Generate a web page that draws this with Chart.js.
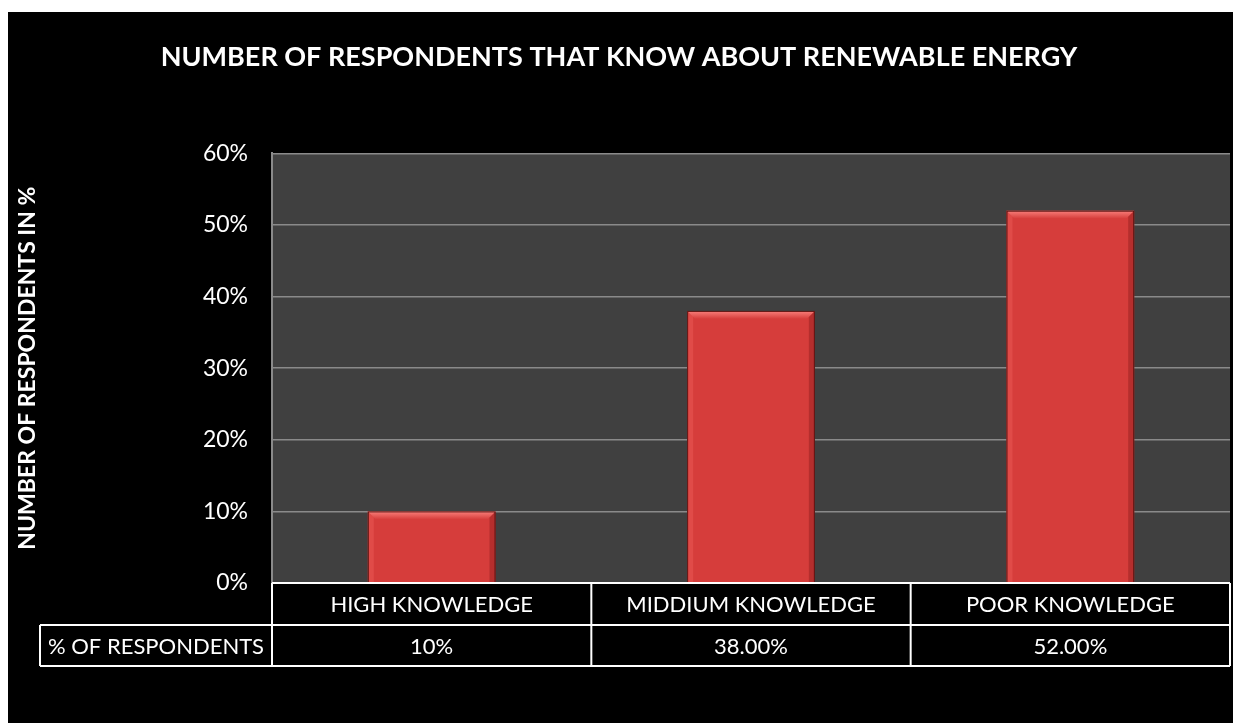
<!DOCTYPE html>
<html>
<head>
<meta charset="utf-8">
<script src="https://cdn.jsdelivr.net/npm/chart.js@4/dist/chart.umd.min.js"></script>
<style>
  html, body { margin: 0; padding: 0; background: #fff; }
  #wrap { width: 1233px; height: 723px; }
</style>
</head>
<body>
<div id="wrap"><canvas id="knowledge-chart" width="1233" height="723"></canvas></div>
<script>
const categories = ["HIGH KNOWLEDGE", "MIDDIUM KNOWLEDGE", "POOR KNOWLEDGE"];
const respondents = [10, 38, 52];
const tableLabels = ["10%", "38.00%", "52.00%"];
const seriesName = "% OF RESPONDENTS";

const FONT = "Lato, 'Open Sans', sans-serif";
const canvas = document.getElementById("knowledge-chart");

// black frame + dark plot area behind the bars
const background = {
    id: "background",
    beforeDraw(chart) {
        const ctx = chart.ctx;
        const a = chart.chartArea;
        ctx.save();
        ctx.fillStyle = "#ffffff";
        ctx.fillRect(0, 0, chart.width, chart.height);
        ctx.fillStyle = "#000000";
        ctx.fillRect(8, 12, chart.width - 8, chart.height - 12);
        ctx.fillStyle = "#404040";
        ctx.fillRect(a.left, a.top, a.right - a.left, a.bottom - a.top);
        ctx.restore();
    },
    afterDatasetsDraw(chart) {
        // bevel look on each bar
        const ctx = chart.ctx;
        chart.getDatasetMeta(0).data.forEach(bar => {
            const l = bar.x - bar.width / 2, r = bar.x + bar.width / 2;
            const t = bar.y, b = bar.base;
            ctx.save();
            let g = ctx.createLinearGradient(0, t, 0, t + 8);
            g.addColorStop(0, "rgba(255,140,135,0.85)");
            g.addColorStop(1, "rgba(255,140,135,0)");
            ctx.fillStyle = g;
            ctx.beginPath();
            ctx.moveTo(l, t); ctx.lineTo(r, t); ctx.lineTo(r - 8, t + 8); ctx.lineTo(l + 8, t + 8);
            ctx.closePath(); ctx.fill();
            ctx.fillStyle = "rgba(120,20,20,0.35)";
            ctx.beginPath();
            ctx.moveTo(r, t); ctx.lineTo(r, b); ctx.lineTo(r - 6, b); ctx.lineTo(r - 6, t + 6);
            ctx.closePath(); ctx.fill();
            ctx.fillStyle = "rgba(255,120,110,0.25)";
            ctx.beginPath();
            ctx.moveTo(l, t); ctx.lineTo(l, b); ctx.lineTo(l + 6, b); ctx.lineTo(l + 6, t + 6);
            ctx.closePath(); ctx.fill();
            ctx.strokeStyle = "#5a1412";
            ctx.lineWidth = 1;
            ctx.strokeRect(l + 0.5, t + 0.5, r - l - 1, b - t);
            ctx.restore();
        });
    }
};

// data table under the plot
const dataTable = {
    id: "dataTable",
    afterDraw(chart) {
        const ctx = chart.ctx;
        const a = chart.chartArea;
        const x = chart.scales.x;
        const rowH = 42;
        const y0 = a.bottom, y1 = y0 + rowH, y2 = y1 + rowH - 1;
        const step = (a.right - a.left) / categories.length;
        ctx.save();
        ctx.strokeStyle = "#ffffff";
        ctx.lineWidth = 2;
        ctx.beginPath();
        ctx.moveTo(a.left, y0); ctx.lineTo(a.right, y0);
        ctx.moveTo(40, y1); ctx.lineTo(a.right, y1);
        ctx.moveTo(40, y2); ctx.lineTo(a.right, y2);
        ctx.moveTo(40, y1); ctx.lineTo(40, y2);
        for (let i = 0; i <= categories.length; i++) {
            const px = a.left + step * i;
            ctx.moveTo(px, y0); ctx.lineTo(px, y2);
        }
        ctx.stroke();
        ctx.fillStyle = "#ffffff";
        ctx.font = "22px " + FONT;
        ctx.textAlign = "center";
        ctx.textBaseline = "middle";
        categories.forEach((c, i) => {
            const cx = x.getPixelForValue(i);
            ctx.fillText(c, cx, (y0 + y1) / 2 + 1);
            ctx.fillText(tableLabels[i], cx, (y1 + y2) / 2 + 1);
        });
        ctx.fillText(seriesName, (40 + a.left) / 2, (y1 + y2) / 2 + 1);
        ctx.restore();
    }
};

new Chart(canvas, {
    type: "bar",
    data: {
        labels: categories,
        datasets: [{
            label: seriesName,
            data: respondents,
            backgroundColor: "#d63d3b",
            borderWidth: 0,
            barPercentage: 0.4,
            categoryPercentage: 1
        }]
    },
    options: {
        responsive: false,
        animation: false,
        layout: { padding: { top: 12, left: 8, right: 3, bottom: 0 } },
        scales: {
            x: {
                ticks: { display: false },
                grid: { display: false, drawTicks: false },
                border: { display: false },
                afterFit(scale) { scale.height = 140; }
            },
            y: {
                min: 0,
                max: 60,
                ticks: {
                    stepSize: 10,
                    padding: 24,
                    color: "#ffffff",
                    font: { family: FONT, size: 23 },
                    callback: v => v + "%"
                },
                grid: { color: "#8a8a8a", lineWidth: 1.5, drawTicks: false },
                border: { display: true, color: "#8a8a8a", width: 2 },
                title: {
                    display: true,
                    text: "NUMBER OF RESPONDENTS IN %",
                    color: "#ffffff",
                    font: { family: FONT, size: 23, weight: "bold" },
                    padding: { top: 6, bottom: 0 }
                },
                afterFit(scale) { scale.width = 264; }
            }
        },
        plugins: {
            legend: { display: false },
            tooltip: { enabled: false },
            title: {
                display: true,
                text: "NUMBER OF RESPONDENTS THAT KNOW ABOUT RENEWABLE ENERGY",
                color: "#ffffff",
                font: { family: FONT, size: 27, weight: "bold" },
                padding: { top: 29, bottom: 80 }
            }
        }
    },
    plugins: [background, dataTable]
});
</script>
</body>
</html>
